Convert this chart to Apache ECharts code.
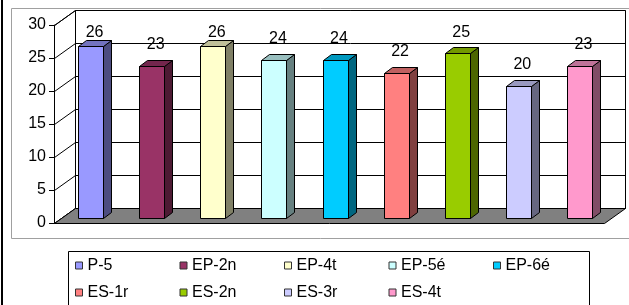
<!DOCTYPE html>
<html>
<head>
<meta charset="utf-8">
<script src="https://cdn.jsdelivr.net/npm/echarts@6/dist/echarts.min.js"></script>
<style>
    html, body {margin: 0; padding: 0; background: #fff;}
    #chart {width: 629px; height: 305px;}
</style>
</head>
<body>
<div id="chart"></div>
<script>
var categories = ['P-5', 'EP-2n', 'EP-4t', 'EP-5é', 'EP-6é', 'ES-1r', 'ES-2n', 'ES-3r', 'ES-4t'];
var values = [26, 23, 26, 24, 24, 22, 25, 20, 23];
var colors = ['#9999FF', '#993366', '#FFFFCC', '#CCFFFF', '#00CCFF',
    '#FF8080', '#99CC00', '#CCCCFF', '#FF99CC'];
var yTicks = [0, 5, 10, 15, 20, 25, 30];

var DX = 21, DY = -15;      // depth of the 3d box
var font = 'Arial, "Liberation Sans", sans-serif';

// darker face of a bar
function shade(hex, k) {
    var n = parseInt(hex.slice(1), 16);
    var r = Math.round((n >> 16 & 255) * k), g = Math.round((n >> 8 & 255) * k), b = Math.round((n & 255) * k);
    return 'rgb(' + r + ',' + g + ',' + b + ')';
}

function px(v) {
    return Math.round(v) + 0.5;
}

function renderWalls(params, api) {
    var cs = params.coordSys;
    var x0 = px(cs.x), x1 = px(cs.x + cs.width);
    var yt = px(cs.y), yb = px(cs.y + cs.height);
    var line = {stroke: '#000', lineWidth: 1};
    var children = [];
    // back wall
    children.push({
        type: 'rect',
        shape: {x: x0 + DX, y: yt + DY, width: x1 - x0, height: yb - yt},
        style: {fill: '#fff', stroke: '#000', lineWidth: 1}
    });
    // left wall
    children.push({
        type: 'polygon',
        shape: {points: [[x0, yb], [x0, yt], [x0 + DX, yt + DY], [x0 + DX, yb + DY]]},
        style: {fill: '#fff', stroke: '#000', lineWidth: 1}
    });
    yTicks.forEach(function (v) {
        var y = px(api.coord([0, v])[1]);
        children.push({type: 'line', shape: {x1: x0, y1: y, x2: x0 + DX, y2: y + DY}, style: line});
        children.push({type: 'line', shape: {x1: x0 + DX, y1: y + DY, x2: x1 + DX, y2: y + DY}, style: line});
    });
    // floor
    children.push({
        type: 'polygon',
        shape: {points: [[x0, yb], [x1, yb], [x1 + DX, yb + DY], [x0 + DX, yb + DY]]},
        style: {fill: '#808080', stroke: '#000', lineWidth: 1}
    });
    return {type: 'group', children: children};
}

function renderBar(params, api) {
    var cs = params.coordSys;
    var c = api.value(0), v = api.value(1);
    var top = api.coord([c, v]), base = api.coord([c, 0]);
    var w = Math.round(api.size([1, 0])[0] * 0.41);
    var ox = 6, oy = -5;        // bar sits one third into the depth
    var sx = 8, sy = -6;        // bar depth
    var xl = Math.round(top[0] - w / 2 + ox) + 0.5, xr = xl + w;
    var y1 = Math.round(top[1] + oy) + 0.5, y0 = Math.round(base[1] + oy) + 0.5;
    var fill = api.visual('color');
    return {
        type: 'group',
        children: [
            {type: 'rect', shape: {x: xl, y: y1, width: w, height: y0 - y1},
                style: {fill: fill, stroke: '#000', lineWidth: 1}},
            {type: 'polygon', shape: {points: [[xr, y0], [xr, y1], [xr + sx, y1 + sy], [xr + sx, y0 + sy]]},
                style: {fill: shade(fill, 0.5), stroke: '#000', lineWidth: 1}},
            {type: 'polygon', shape: {points: [[xl, y1], [xr, y1], [xr + sx, y1 + sy], [xl + sx, y1 + sy]]},
                style: {fill: shade(fill, 0.75), stroke: '#000', lineWidth: 1}},
            // value label, kept inside the plot like excel does
            {type: 'text', x: top[0] + ox + 4, y: Math.max(y1 - 22, cs.y + 8),
                style: {text: String(v), fill: '#000', font: '16px ' + font, align: 'center', verticalAlign: 'middle'}}
        ]
    };
}

var series = [{
    type: 'custom',
    name: 'walls',
    renderItem: renderWalls,
    data: [[0, 0]],
    silent: true,
    z: 1
}];
categories.forEach(function (name, i) {
    series.push({
        type: 'custom',
        name: name,
        renderItem: renderBar,
        itemStyle: {color: colors[i]},
        encode: {x: 0, y: 1},
        data: [[i, values[i]]],
        z: 2
    });
});

var chart = echarts.init(document.getElementById('chart'));
chart.setOption({
    animation: false,
    grid: {left: 54, right: 25, top: 25, bottom: 82},
    xAxis: {type: 'category', data: categories, show: false},
    yAxis: {
        type: 'value', min: 0, max: 30, interval: 5,
        axisLine: {show: true, lineStyle: {color: '#000', width: 1}},
        axisTick: {show: true, length: 5, lineStyle: {color: '#000'}},
        axisLabel: {fontSize: 16, fontFamily: font, color: '#000', margin: 8},
        splitLine: {show: false},
        z: 5
    },
    legend: {
        data: categories,
        left: 75, top: 252, width: 525,
        padding: 0, itemGap: 0,
        itemWidth: 7, itemHeight: 7, icon: 'rect',
        itemStyle: {borderColor: '#333', borderWidth: 1},
        textStyle: {fontSize: 16, fontFamily: font, color: '#000', width: 92, height: 27, lineHeight: 27}
    },
    graphic: [
        {type: 'rect', shape: {x: 11.5, y: 8.5, width: 640, height: 230}, style: {fill: null, stroke: '#a0a0a0', lineWidth: 1}, z: -1},
        {type: 'rect', shape: {x: 1, y: 0, width: 2, height: 305}, style: {fill: '#000'}},
        {type: 'rect', shape: {x: 68.5, y: 251.5, width: 521, height: 60}, style: {fill: null, stroke: '#000', lineWidth: 1}}
    ],
    series: series
});
</script>
</body>
</html>
